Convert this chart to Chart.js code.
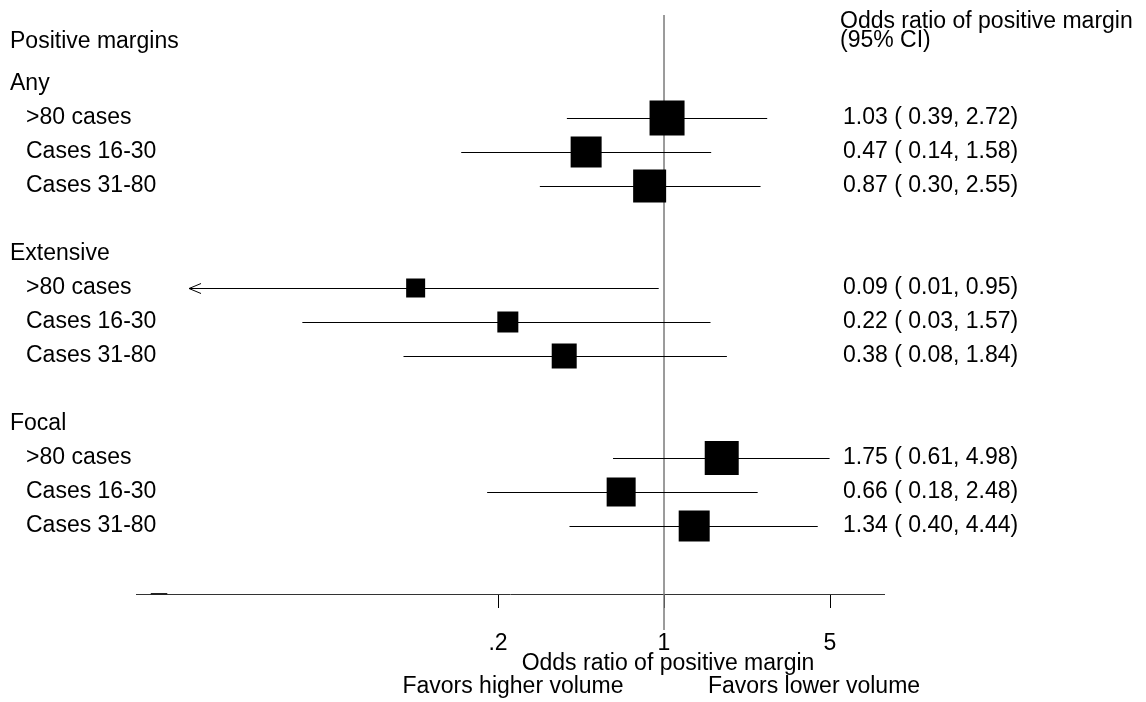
<!DOCTYPE html>
<html>
<head>
<meta charset="utf-8">
<script src="https://cdn.jsdelivr.net/npm/chart.js@4.4.1/dist/chart.umd.min.js"></script>
<style>
  html, body { margin: 0; padding: 0; background: #fff; }
  #wrap { width: 1146px; height: 702px; }
</style>
</head>
<body>
<div id="wrap"><canvas id="forest" width="1146" height="702"></canvas></div>
<script>
// groups and rows (row = position from top, in row units)
const groups = ['Any', 'Extensive', 'Focal'];
const groupRows = [1, 6, 11];
const labels = ['>80 cases', 'Cases 16-30', 'Cases 31-80',
                '>80 cases', 'Cases 16-30', 'Cases 31-80',
                '>80 cases', 'Cases 16-30', 'Cases 31-80'];
const rows = [2, 3, 4, 7, 8, 9, 12, 13, 14];
const oddsRatio = [1.03, 0.47, 0.87, 0.09, 0.22, 0.38, 1.75, 0.66, 1.34];
const ciLow     = [0.39, 0.14, 0.30, 0.01, 0.03, 0.08, 0.61, 0.18, 0.40];
const ciHigh    = [2.72, 1.58, 2.55, 0.95, 1.57, 1.84, 4.98, 2.48, 4.44];
// relative weights (box side)
const weights   = [35, 31, 33, 19, 21, 25, 34, 29, 31];
const truncLow  = [false, false, false, true, false, false, false, false, false];
const xTicks = [0.2, 1, 5];

const FONT = '"Liberation Sans", Arial, sans-serif';
const FS = 23;
Chart.defaults.font.family = FONT;
Chart.defaults.font.size = FS;
Chart.defaults.color = '#000';

const fmt2 = v => v.toFixed(2);

const forestPlugin = {
  id: 'forest',
  beforeDatasetsDraw(chart) {
    const { ctx, chartArea, scales: { x, y } } = chart;
    ctx.save();
    // reference line at OR = 1
    const x1 = x.getPixelForValue(1);
    ctx.strokeStyle = '#7a7a7a';
    ctx.lineWidth = 1.5;
    ctx.beginPath();
    ctx.moveTo(x1, 15);
    ctx.lineTo(x1, 630);
    ctx.stroke();
    // confidence intervals
    ctx.strokeStyle = '#000';
    ctx.lineWidth = 1;
    rows.forEach((r, i) => {
      const py = Math.round(y.getPixelForValue(r)) + 0.5;
      const a = x.getPixelForValue(ciLow[i]);
      const b = x.getPixelForValue(ciHigh[i]);
      ctx.beginPath();
      ctx.moveTo(a, py);
      ctx.lineTo(b, py);
      ctx.stroke();
      if (truncLow[i]) {
        ctx.beginPath();
        ctx.moveTo(a + 12, py - 5);
        ctx.lineTo(a, py);
        ctx.lineTo(a + 12, py + 5);
        ctx.stroke();
      }
    });
    // small dark mark on the axis
    const ax = chartArea.bottom;
    ctx.lineWidth = 2;
    ctx.strokeStyle = '#222';
    ctx.beginPath();
    ctx.moveTo(x.getPixelForValue(0.0069), ax);
    ctx.lineTo(x.getPixelForValue(0.0081), ax);
    ctx.stroke();
    ctx.restore();
  },
  afterDraw(chart) {
    const { ctx, scales: { y } } = chart;
    ctx.save();
    ctx.fillStyle = '#000';
    ctx.font = `${FS}px ${FONT}`;
    ctx.textBaseline = 'middle';
    ctx.textAlign = 'left';
    ctx.fillText('Positive margins', 10, y.getPixelForValue(-0.24));
    groups.forEach((g, i) => ctx.fillText(g, 10, y.getPixelForValue(groupRows[i])));
    labels.forEach((l, i) => {
      const py = y.getPixelForValue(rows[i]);
      ctx.fillText(l, 26, py);
      ctx.fillText(`${fmt2(oddsRatio[i])} ( ${fmt2(ciLow[i])}, ${fmt2(ciHigh[i])})`, 843, py);
    });
    // right column header
    ctx.fillText('Odds ratio of positive margin', 840, 22);
    ctx.fillText('(95% CI)', 840, 41);
    // axis titles
    ctx.textAlign = 'center';
    ctx.fillText('Odds ratio of positive margin', 668, 664);
    ctx.fillText('Favors higher volume', 513, 687);
    ctx.fillText('Favors lower volume', 814, 687);
    ctx.restore();
  }
};

new Chart(document.getElementById('forest'), {
  type: 'scatter',
  data: {
    datasets: [{
      data: oddsRatio.map((v, i) => ({ x: v, y: rows[i] })),
      pointStyle: 'rect',
      pointRadius: weights.map(w => w / Math.SQRT2),
      pointHoverRadius: weights.map(w => w / Math.SQRT2),
      backgroundColor: '#000',
      borderWidth: 0,
    }],
  },
  options: {
    responsive: false,
    animation: false,
    devicePixelRatio: 1,
    layout: { autoPadding: false, padding: { left: 136, right: 262, top: 12, bottom: 0 } },
    plugins: { legend: { display: false }, tooltip: { enabled: false } },
    scales: {
      x: {
        type: 'logarithmic',
        min: 0.00598,
        max: 8.44,
        afterBuildTicks: s => { s.ticks = xTicks.map(v => ({ value: v })); },
        afterFit: s => { s.height = 108; },
        ticks: { callback: v => (v === 0.2 ? '.2' : String(v)), padding: 22, color: '#000', font: { size: FS } },
        grid: { drawOnChartArea: false, tickLength: 14, color: '#000', lineWidth: 1 },
        border: { display: true, color: '#333', width: 1 },
      },
      y: {
        display: false,
        reverse: true,
        min: -1.1176,
        max: 16,
      },
    },
  },
  plugins: [forestPlugin],
});
</script>
</body>
</html>
